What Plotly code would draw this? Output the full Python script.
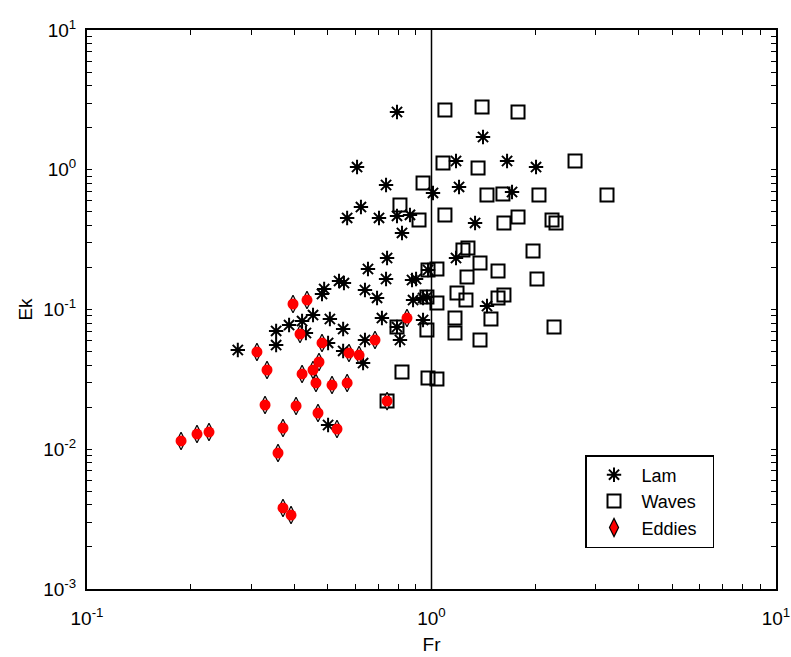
import plotly.graph_objects as go

# ---- data ----
lam_fr = [0.794, 1.411, 1.178, 1.657, 2.011, 0.608, 0.738, 1.010, 1.202, 1.713,
          0.624, 0.569, 0.704, 0.794, 0.866, 0.821, 1.338, 0.743, 0.654, 0.738,
          0.641, 0.878, 0.902, 1.178, 0.977, 1.449, 0.539, 0.557, 0.488, 0.481,
          0.695, 0.884, 0.945, 0.453, 0.507, 0.386, 0.421, 0.354, 0.718, 0.554,
          0.945, 0.641, 0.554, 0.633, 0.501, 0.274, 0.354, 0.432, 0.501, 0.810,
          0.794, 0.970]
lam_ek = [2.590, 1.715, 1.155, 1.155, 1.046, 1.046, 0.778, 0.682, 0.753, 0.693,
          0.541, 0.452, 0.452, 0.467, 0.475, 0.353, 0.416, 0.2336, 0.1949, 0.1653,
          0.1379, 0.1626, 0.1653, 0.2336, 0.1917, 0.1059, 0.1600, 0.1547, 0.1402, 0.1291,
          0.1209, 0.1169, 0.1209, 0.0913, 0.0855, 0.0774, 0.0827, 0.0702, 0.0869, 0.0725,
          0.0841, 0.0605, 0.0505, 0.0414, 0.0576, 0.0513, 0.0557, 0.0679, 0.01491, 0.0605,
          0.0749, 0.1229]

waves_fr = [1.094, 1.402, 1.783, 2.610, 1.080, 1.365, 1.449, 1.612, 2.051, 3.232,
            1.094, 1.623, 1.783, 2.238, 2.298, 1.276, 1.234, 1.383, 1.971, 1.560,
            2.024, 1.268, 1.037, 0.977, 1.186, 1.259, 1.560, 1.623, 1.037, 1.488,
            1.170, 1.170, 0.970, 1.383, 2.268, 1.037, 0.977, 0.970, 0.794, 0.821,
            0.743, 0.945, 0.810, 0.920]
waves_ek = [2.676, 2.812, 2.590, 1.155, 1.118, 1.029, 0.660, 0.671, 0.660, 0.660,
            0.475, 0.416, 0.459, 0.437, 0.416, 0.2755, 0.2666, 0.2151, 0.2622, 0.1886,
            0.1653, 0.1708, 0.1949, 0.1917, 0.1313, 0.1169, 0.1209, 0.1270, 0.1113, 0.0855,
            0.0869, 0.0679, 0.0713, 0.0605, 0.0749, 0.0318, 0.0323, 0.1229, 0.0749, 0.0357,
            0.0221, 0.804, 0.560, 0.437]

eddies_fr = [0.1875, 0.2086, 0.2260, 0.3114, 0.3331, 0.3287, 0.3706, 0.3585, 0.3706, 0.3911,
             0.4044, 0.4153, 0.3963, 0.4351, 0.421, 0.453, 0.4714, 0.4620, 0.5143, 0.569,
             0.4683, 0.5317, 0.481, 0.5761, 0.6162, 0.6855, 0.8489, 0.743]
eddies_ek = [0.01146, 0.01285, 0.01328, 0.0497, 0.0369, 0.02073, 0.01419, 0.00940, 0.00380, 0.00338,
             0.02040, 0.0668, 0.1095, 0.1169, 0.0346, 0.0369, 0.0421, 0.0298, 0.0288, 0.0298,
             0.01817, 0.01396, 0.0576, 0.0488, 0.0472, 0.0605, 0.0869, 0.0221]

series_names = ["Lam", "Waves", "Eddies"]
x_decades = [-1, 0, 1]
y_decades = [-3, -2, -1, 0, 1]

FONT = "Liberation Sans, Arial, sans-serif"
PAD = "\u00a0\u00a0"


def log_ticks(decades):
    vals, texts = [], []
    for i, d in enumerate(decades):
        for m in range(1, 10):
            if i == len(decades) - 1 and m > 1:
                break
            vals.append(m * 10.0 ** d)
            texts.append("10<sup>%d</sup>" % d if m == 1 else "")
    return vals, texts


xtv, xtt = log_ticks(x_decades)
ytv, ytt = log_ticks(y_decades)

fig = go.Figure()
fig.add_trace(go.Scatter(
    x=lam_fr, y=lam_ek, mode="markers", name=series_names[0] + PAD,
    marker=dict(symbol="asterisk-open", size=12, color="black",
                line=dict(color="black", width=2))))
fig.add_trace(go.Scatter(
    x=waves_fr, y=waves_ek, mode="markers", name=series_names[1] + PAD,
    marker=dict(symbol="square-open", size=13, color="black",
                line=dict(color="black", width=2))))
fig.add_trace(go.Scatter(
    x=eddies_fr, y=eddies_ek, mode="markers", name=series_names[2], showlegend=False,
    marker=dict(symbol="diamond-tall", size=12.5, color="white",
                line=dict(color="black", width=1.2))))
fig.add_trace(go.Scatter(
    x=eddies_fr, y=eddies_ek, mode="markers", name=series_names[2], showlegend=False,
    marker=dict(symbol="circle", size=11, color="#ff0000",
                line=dict(width=0))))
# legend-only entry for Eddies
fig.add_trace(go.Scatter(
    x=[None], y=[None], mode="markers", name=series_names[2] + PAD,
    marker=dict(symbol="diamond-tall", size=13, color="#ff0000",
                line=dict(color="black", width=1.2))))

fig.add_shape(type="line", xref="x", yref="paper", x0=1, x1=1, y0=0, y1=1,
              line=dict(color="black", width=1.5))

axis_common = dict(
    type="log", showgrid=False, zeroline=False, automargin=False,
    showline=True, linecolor="black", linewidth=2, mirror="ticks",
    ticks="inside", ticklen=5, tickwidth=1, tickcolor="black",
    tickfont=dict(family=FONT, size=19, color="black"),
    title_font=dict(family=FONT, size=19, color="black"),
)

fig.update_xaxes(**axis_common, range=[-1, 1], tickmode="array",
                 tickvals=xtv, ticktext=xtt, title_text="Fr",
                 title_standoff=10, ticklabelstandoff=11)
fig.update_yaxes(**axis_common, range=[-3, 1], tickmode="array",
                 tickvals=ytv, ticktext=ytt, title_text="Ek",
                 title_standoff=6, ticklabelstandoff=5)

fig.update_layout(
    width=791, height=657,
    margin=dict(l=87, r=15, t=30, b=68),
    paper_bgcolor="white", plot_bgcolor="white",
    showlegend=True,
    legend=dict(x=0.7228, y=0.2397, xanchor="left", yanchor="top",
                bgcolor="white", bordercolor="black", borderwidth=1.5,
                font=dict(family=FONT, size=18, color="black"),
                itemwidth=45, itemsizing="trace", tracegroupgap=0),
)

fig.write_html("out.html")
